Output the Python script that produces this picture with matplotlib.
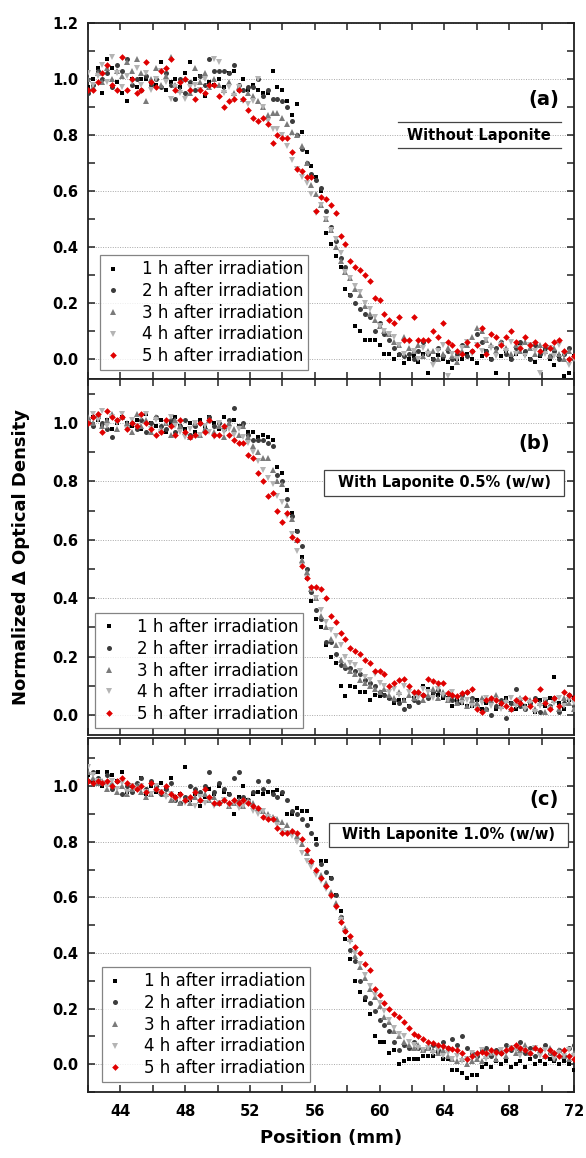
import numpy as np
import matplotlib
matplotlib.use("Agg")
import matplotlib.pyplot as plt
from matplotlib.ticker import MultipleLocator, FormatStrFormatter
from matplotlib.patches import Rectangle

plt.rcParams['font.family'] = ['DejaVu Sans']

# ---------------- data ----------------
position = [round(42.0 + 0.3 * k, 1) for k in range(101)]  # mm

labels = ["1 h after irradiation", "2 h after irradiation", "3 h after irradiation",
          "4 h after irradiation", "5 h after irradiation"]

a_1h = [0.97, 1.00, 1.04, 0.95, 1.07, 1.04, 0.99, 0.95, 0.92, 1.00,
        0.97, 1.00, 1.00, 0.99, 0.98, 1.06, 0.96, 0.99, 1.00, 0.97,
        1.02, 1.06, 1.00, 1.01, 0.94, 0.99, 0.98, 1.00, 0.97, 1.02,
        1.03, 0.96, 1.00, 0.96, 0.98, 0.96, 0.95, 0.95, 1.03, 0.97,
        0.96, 0.92, 0.87, 0.91, 0.81, 0.74, 0.69, 0.65, 0.60, 0.45,
        0.41, 0.37, 0.33, 0.25, 0.23, 0.12, 0.10, 0.07, 0.07, 0.07,
        0.05, 0.02, 0.02, 0.00, 0.015, -0.015, 0.00, 0.01, -0.01, 0.02,
        -0.05, 0.00, 0.015, 0.00, -0.01, -0.03, 0.00, 0.00, 0.02, 0.00,
        -0.015, 0.01, 0.03, 0.00, -0.05, 0.01, 0.03, 0.00, 0.02, 0.05,
        0.02, 0.00, -0.01, 0.01, 0.03, 0.00, -0.02, 0.01, -0.06, -0.05,
        0.01]
a_2h = [0.95, 0.98, 1.03, 1.00, 1.02, 0.97, 1.05, 1.03, 1.07, 0.98,
        1.00, 0.96, 1.01, 0.98, 1.00, 0.97, 1.02, 0.98, 0.93, 1.00,
        0.95, 0.99, 0.96, 1.01, 0.98, 1.07, 1.03, 1.03, 1.03, 1.02,
        1.05, 0.98, 0.96, 0.97, 0.97, 1.00, 0.94, 0.96, 0.93, 0.93,
        0.92, 0.90, 0.85, 0.80, 0.75, 0.70, 0.66, 0.64, 0.61, 0.53,
        0.47, 0.42, 0.36, 0.33, 0.23, 0.20, 0.18, 0.16, 0.15, 0.10,
        0.13, 0.09, 0.07, 0.04, 0.02, 0.01, 0.02, 0.00, 0.03, 0.06,
        0.02, 0.00, 0.04, 0.01, 0.03, 0.00, 0.02, 0.05, 0.01, 0.03,
        0.09, 0.06, 0.03, 0.00, 0.04, 0.06, 0.02, 0.00, 0.04, 0.06,
        0.03, 0.00, 0.05, 0.02, 0.04, 0.01, 0.03, 0.00, 0.02, 0.04,
        0.00]
a_3h = [1.00, 0.97, 1.02, 0.99, 1.04, 1.00, 1.03, 1.01, 1.06, 1.03,
        1.07, 1.02, 0.92, 1.00, 1.04, 0.98, 1.01, 1.08, 0.98, 0.96,
        1.00, 0.95, 1.04, 0.99, 1.02, 0.97, 1.00, 0.98, 0.96, 0.99,
        0.95, 0.97, 0.93, 0.95, 0.94, 0.92, 0.90, 0.87, 0.88, 0.88,
        0.86, 0.84, 0.81, 0.80, 0.76, 0.70, 0.62, 0.59, 0.55, 0.50,
        0.46, 0.40, 0.35, 0.31, 0.29, 0.25, 0.23, 0.19, 0.16, 0.14,
        0.12, 0.10, 0.09, 0.06, 0.05, 0.08, 0.04, 0.03, 0.05, 0.01,
        0.03, 0.03, 0.00, 0.02, 0.04, 0.01, -0.01, 0.03, 0.05, 0.08,
        0.11, 0.10, 0.07, 0.05, 0.03, 0.06, 0.04, 0.02, 0.05, 0.03,
        0.06, 0.04, 0.02, 0.05, 0.03, 0.01, 0.04, 0.02, 0.00, 0.03,
        0.01]
a_4h = [1.02, 0.98, 1.01, 1.05, 0.99, 1.08, 1.02, 0.97, 1.01, 0.99,
        1.04, 0.98, 1.02, 0.96, 1.00, 1.03, 0.99, 0.93, 0.97, 0.95,
        0.93, 0.97, 0.98, 0.96, 1.00, 0.97, 1.07, 1.06, 0.95, 0.97,
        0.94, 0.97, 0.92, 0.91, 0.92, 1.00, 0.90, 0.85, 0.82, 0.82,
        0.80, 0.76, 0.71, 0.68, 0.65, 0.63, 0.59, 0.52, 0.55, 0.50,
        0.46, 0.43, 0.38, 0.31, 0.29, 0.26, 0.24, 0.20, 0.18, 0.15,
        0.12, 0.10, 0.09, 0.08, 0.05, 0.02, 0.06, 0.03, 0.00, 0.04,
        0.02, -0.02, 0.03, 0.05, -0.06, 0.02, 0.00, 0.04, 0.06, 0.02,
        0.05, 0.03, 0.07, 0.04, 0.01, 0.05, 0.03, 0.06, 0.02, 0.04,
        0.01, 0.05, 0.03, -0.05, 0.02, 0.04, 0.01, 0.05, 0.02, -0.02,
        0.00]
a_5h = [0.96, 0.96, 0.99, 1.02, 1.05, 0.98, 0.96, 1.08, 0.96, 1.00,
        0.95, 0.96, 1.06, 0.99, 0.97, 1.03, 1.04, 1.07, 0.96, 0.99,
        1.00, 0.96, 0.93, 0.96, 0.95, 0.98, 0.98, 0.94, 0.90, 0.92,
        0.93, 0.96, 0.93, 0.89, 0.86, 0.85, 0.86, 0.84, 0.77, 0.80,
        0.79, 0.79, 0.74, 0.68, 0.67, 0.65, 0.65, 0.53, 0.58, 0.57,
        0.55, 0.52, 0.44, 0.41, 0.35, 0.33, 0.32, 0.30, 0.28, 0.22,
        0.21, 0.16, 0.14, 0.13, 0.15, 0.07, 0.07, 0.15, 0.07, 0.07,
        0.07, 0.10, 0.08, 0.13, 0.06, 0.05, 0.03, 0.02, 0.06, 0.03,
        0.05, 0.11, 0.02, 0.09, 0.08, 0.05, 0.08, 0.10, 0.06, 0.04,
        0.08, 0.05, 0.06, 0.03, 0.05, 0.04, 0.06, 0.07, 0.03, 0.00,
        0.01]

b_1h = [1.00, 1.02, 1.01, 0.99, 1.01, 0.98, 1.00, 1.02, 1.00, 0.99,
        1.01, 0.98, 1.03, 1.00, 0.99, 1.01, 0.97, 1.00, 1.02, 0.99,
        0.98, 1.00, 0.97, 1.01, 0.99, 1.02, 1.00, 0.98, 1.02, 0.99,
        1.01, 0.99, 0.99, 0.97, 0.97, 0.95, 0.96, 0.95, 0.94, 0.85,
        0.83, 0.77, 0.69, 0.63, 0.54, 0.47, 0.39, 0.33, 0.30, 0.24,
        0.20, 0.18, 0.10, 0.065, 0.10, 0.095, 0.08, 0.08, 0.05, 0.07,
        0.065, 0.07, 0.06, 0.04, 0.05, 0.05, 0.03, 0.06, 0.07, 0.10,
        0.09, 0.075, 0.07, 0.06, 0.06, 0.03, 0.05, 0.04, 0.03, 0.03,
        0.05, 0.02, 0.04, 0.05, 0.02, 0.03, 0.06, 0.04, 0.02, 0.05,
        0.03, 0.04, 0.01, 0.05, 0.03, 0.06, 0.13, 0.04, 0.02, 0.05,
        0.06]
b_2h = [1.01, 0.99, 1.02, 1.00, 0.98, 0.95, 1.01, 1.02, 0.99, 1.00,
        0.98, 1.01, 0.97, 1.00, 1.02, 0.99, 0.98, 1.01, 0.97, 0.99,
        1.01, 0.96, 0.99, 1.00, 0.98, 1.02, 0.99, 1.00, 0.98, 1.01,
        1.05, 0.99, 1.00, 0.96, 0.94, 0.94, 0.94, 0.93, 0.92, 0.82,
        0.80, 0.74, 0.68, 0.63, 0.58, 0.50, 0.42, 0.36, 0.33, 0.25,
        0.25, 0.21, 0.17, 0.16, 0.16, 0.15, 0.14, 0.12, 0.11, 0.10,
        0.08, 0.07, 0.06, 0.05, 0.04, 0.02, 0.03, 0.05, 0.045, 0.07,
        0.06, 0.08, 0.085, 0.07, 0.06, 0.05, 0.04, 0.07, 0.08, 0.06,
        0.03, 0.05, 0.02, 0.00, 0.03, 0.05, -0.01, 0.04, 0.09, 0.03,
        0.02, 0.04, 0.06, 0.01, 0.05, 0.03, 0.06, 0.01, 0.04, 0.07,
        0.03]
b_3h = [1.02, 1.00, 1.03, 0.99, 1.01, 1.03, 0.98, 1.02, 1.00, 0.97,
        1.03, 0.99, 1.01, 0.97, 1.02, 0.98, 1.00, 0.96, 1.01, 0.99,
        0.97, 0.95, 1.00, 0.96, 0.98, 1.01, 0.97, 0.99, 0.95, 1.00,
        0.98, 0.96, 0.99, 0.95, 0.92, 0.90, 0.88, 0.88, 0.84, 0.80,
        0.79, 0.72, 0.67, 0.60, 0.53, 0.49, 0.43, 0.40, 0.34, 0.30,
        0.26, 0.24, 0.19, 0.17, 0.15, 0.14, 0.12, 0.11, 0.10, 0.09,
        0.08, 0.09, 0.07, 0.06, 0.08, 0.05, 0.07, 0.06, 0.08, 0.05,
        0.07, 0.09, 0.06, 0.08, 0.05, 0.07, 0.04, 0.06, 0.03, 0.05,
        0.04, 0.06, 0.02, 0.05, 0.07, 0.03, 0.05, 0.02, 0.04, 0.06,
        0.03, 0.05, 0.02, 0.04, 0.01, 0.03, 0.05, 0.02, 0.06, 0.04,
        0.02]
b_4h = [1.00, 1.03, 1.01, 1.04, 0.99, 1.02, 1.00, 1.03, 0.98, 1.01,
        0.99, 1.02, 1.03, 0.98, 1.01, 0.97, 1.00, 1.02, 0.99, 0.97,
        0.95, 0.98, 1.00, 0.96, 0.99, 0.97, 0.95, 1.00, 0.97, 0.98,
        0.96, 0.98, 0.95, 0.93, 0.90, 0.87, 0.84, 0.81, 0.79, 0.75,
        0.73, 0.68, 0.62, 0.56, 0.51, 0.47, 0.43, 0.40, 0.36, 0.32,
        0.29, 0.27, 0.24, 0.20, 0.18, 0.17, 0.15, 0.13, 0.12, 0.14,
        0.11, 0.10, 0.08, 0.09, 0.07, 0.10, 0.08, 0.07, 0.06, 0.09,
        0.08, 0.06, 0.09, 0.07, 0.05, 0.08, 0.06, 0.04, 0.05, 0.03,
        0.02, 0.04, 0.06, 0.03, 0.05, 0.02, 0.04, 0.06, 0.03, 0.05,
        0.02, 0.04, 0.01, 0.03, 0.05, 0.02, 0.04, 0.06, 0.03, 0.05,
        0.04]
b_5h = [1.00, 1.02, 1.03, 0.97, 1.04, 1.02, 1.01, 1.02, 0.98, 1.00,
        0.99, 1.03, 1.00, 0.98, 0.96, 0.97, 1.01, 0.99, 0.96, 1.01,
        0.97, 0.95, 0.96, 1.00, 0.97, 1.01, 0.96, 0.96, 0.99, 0.96,
        0.94, 0.93, 0.93, 0.89, 0.88, 0.83, 0.80, 0.75, 0.76, 0.70,
        0.66, 0.69, 0.61, 0.60, 0.51, 0.47, 0.44, 0.44, 0.43, 0.40,
        0.34, 0.32, 0.28, 0.26, 0.23, 0.22, 0.21, 0.19, 0.18, 0.15,
        0.15, 0.14, 0.10, 0.11, 0.12, 0.125, 0.10, 0.08, 0.08, 0.07,
        0.125, 0.115, 0.11, 0.11, 0.075, 0.07, 0.065, 0.075, 0.08, 0.09,
        0.02, 0.01, 0.05, 0.06, 0.05, 0.04, 0.03, 0.02, 0.05, 0.04,
        0.06, 0.03, 0.05, 0.09, 0.04, 0.02, 0.06, 0.03, 0.08, 0.07,
        0.06]

c_1h = [1.04, 1.02, 1.05, 1.00, 1.05, 1.04, 1.02, 1.05, 0.98, 1.00,
        0.99, 1.03, 0.97, 1.00, 0.98, 1.01, 0.99, 1.03, 0.96, 0.97,
        1.07, 0.95, 0.97, 0.93, 0.96, 0.99, 0.97, 1.00, 0.98, 0.97,
        0.90, 0.96, 1.00, 0.95, 0.97, 0.98, 0.97, 0.98, 0.98, 0.985,
        0.97, 0.90, 0.90, 0.92, 0.91, 0.91, 0.88, 0.81, 0.73, 0.73,
        0.67, 0.61, 0.55, 0.45, 0.38, 0.30, 0.26, 0.23, 0.18, 0.10,
        0.08, 0.08, 0.04, 0.05, 0.00, 0.01, 0.02, 0.02, 0.02, 0.03,
        0.03, 0.03, 0.04, 0.02, 0.02, -0.02, -0.02, -0.03, -0.05, -0.04,
        -0.04, -0.01, 0.00, -0.01, 0.01, 0.00, 0.01, -0.01, 0.00, 0.01,
        -0.01, 0.02, 0.00, 0.01, 0.00, 0.02, 0.01, 0.00, 0.01, 0.00,
        -0.02]
c_2h = [1.02, 1.05, 1.03, 1.01, 1.04, 0.99, 1.02, 0.97, 1.00, 0.98,
        1.01, 1.03, 0.99, 1.02, 1.00, 0.97, 0.99, 1.01, 0.95, 0.94,
        0.96, 1.00, 0.99, 0.98, 1.00, 1.05, 0.98, 1.01, 0.99, 0.97,
        1.03, 1.05, 0.96, 0.95, 0.98, 1.02, 0.99, 1.02, 0.97, 0.96,
        0.98, 0.95, 0.91, 0.90, 0.88, 0.86, 0.83, 0.79, 0.72, 0.69,
        0.67, 0.61, 0.53, 0.48, 0.41, 0.37, 0.30, 0.24, 0.22, 0.19,
        0.16, 0.14, 0.12, 0.08, 0.05, 0.07, 0.06, 0.08, 0.06, 0.05,
        0.06, 0.07, 0.05, 0.08, 0.06, 0.09, 0.07, 0.10, 0.06, 0.04,
        0.03, 0.05, 0.06, 0.03, 0.05, 0.04, 0.07, 0.05, 0.06, 0.08,
        0.04, 0.06, 0.03, 0.05, 0.07, 0.04, 0.02, 0.05, 0.03, 0.06,
        0.07]
c_3h = [1.05, 1.03, 1.01, 1.02, 0.99, 1.01, 0.98, 1.00, 0.97, 0.99,
        1.00, 0.98, 0.96, 0.97, 0.99, 0.98, 0.97, 0.95, 0.96, 0.94,
        0.95, 0.94, 0.96, 0.95, 0.97, 0.95, 0.96, 0.94, 0.95, 0.93,
        0.94, 0.95, 0.93, 0.95, 0.94, 0.92, 0.91, 0.90, 0.89, 0.88,
        0.87, 0.86, 0.84, 0.82, 0.79, 0.76, 0.73, 0.70, 0.68, 0.65,
        0.62, 0.58, 0.53, 0.49, 0.45, 0.39, 0.35, 0.31, 0.27, 0.24,
        0.21, 0.17, 0.15, 0.12, 0.10, 0.08, 0.07, 0.06, 0.07, 0.05,
        0.06, 0.05, 0.04, 0.05, 0.03, 0.02, 0.01, 0.02, 0.00, 0.01,
        0.02, 0.01, 0.03, 0.04, 0.02, 0.05, 0.03, 0.06, 0.04, 0.05,
        0.07, 0.04, 0.06, 0.05, 0.03, 0.06, 0.04, 0.05, 0.03, 0.02,
        0.04]
c_4h = [1.07, 1.04, 1.02, 1.01, 1.00, 1.02, 0.99, 1.01, 0.98, 1.00,
        0.99, 1.00, 0.98, 0.97, 1.00, 0.98, 0.96, 0.97, 0.95, 0.96,
        0.94, 0.95, 0.93, 0.96, 0.94, 0.95, 0.93, 0.94, 0.95, 0.93,
        0.94, 0.92, 0.93, 0.94, 0.91, 0.90, 0.91, 0.89, 0.88, 0.86,
        0.84, 0.83, 0.82, 0.80, 0.76, 0.73, 0.71, 0.68, 0.66, 0.63,
        0.60, 0.56, 0.52, 0.48, 0.44, 0.40, 0.36, 0.32, 0.28, 0.25,
        0.22, 0.19, 0.16, 0.13, 0.11, 0.10, 0.08, 0.07, 0.06, 0.05,
        0.06, 0.04, 0.05, 0.03, 0.04, 0.02, 0.03, 0.01, 0.02, 0.04,
        0.03, 0.05, 0.02, 0.04, 0.03, 0.05, 0.04, 0.06, 0.05, 0.03,
        0.05, 0.04, 0.06, 0.03, 0.05, 0.04, 0.02, 0.04, 0.03, 0.05,
        0.03]
c_5h = [1.02, 1.01, 1.02, 1.01, 1.02, 1.00, 1.02, 1.03, 1.01, 1.00,
        0.99, 1.00, 0.98, 1.01, 0.99, 0.98, 1.00, 0.97, 0.96, 0.97,
        0.95, 0.96, 0.98, 0.95, 0.99, 0.96, 0.94, 0.94, 0.95, 0.94,
        0.95, 0.94, 0.95, 0.94, 0.93, 0.92, 0.89, 0.88, 0.88, 0.85,
        0.83, 0.83, 0.84, 0.83, 0.81, 0.77, 0.73, 0.70, 0.67, 0.64,
        0.61, 0.57, 0.51, 0.48, 0.46, 0.42, 0.40, 0.36, 0.34, 0.27,
        0.25, 0.22, 0.20, 0.18, 0.17, 0.15, 0.13, 0.11, 0.10, 0.09,
        0.08, 0.075, 0.07, 0.065, 0.06, 0.055, 0.05, 0.04, 0.02, 0.03,
        0.04, 0.045, 0.04, 0.05, 0.045, 0.04, 0.05, 0.06, 0.07, 0.06,
        0.05, 0.04, 0.06, 0.05, 0.03, 0.05, 0.04, 0.03, 0.05, 0.03,
        0.02]

panel_series = [[a_1h, a_2h, a_3h, a_4h, a_5h],
                [b_1h, b_2h, b_3h, b_4h, b_5h],
                [c_1h, c_2h, c_3h, c_4h, c_5h]]
panel_letters = ["(a)", "(b)", "(c)"]
panel_notes = ["Without Laponite", "With Laponite 0.5% (w/w)", "With Laponite 1.0% (w/w)"]
x_ticks = [44, 48, 52, 56, 60, 64, 68, 72]

# ---------------- style ----------------
markers = ['s', 'o', '^', 'v', 'D']
colors = ['#000000', '#3c3c3c', '#7a7a7a', '#b4b4b4', '#e00000']
msizes = [3.4, 3.6, 4.2, 4.2, 3.4]

fig = plt.figure(figsize=(5.86, 11.58), dpi=100)
ax_rects = [[0.150, 0.6727, 0.8294, 0.3074],
            [0.150, 0.3653, 0.8294, 0.3074],
            [0.150, 0.0570, 0.8294, 0.3057]]
ylims = [(-0.071, 1.2), (-0.068, 1.15), (-0.10, 1.173)]
legend_anchor = [(0.025, 0.025), (0.015, 0.02), (0.029, 0.028)]
letter_pos = [(0.938, 0.784), (0.918, 0.82), (0.938, 0.826)]
note_boxes = [None, (0.486, 0.671, 0.493, 0.073), (0.496, 0.692, 0.492, 0.068)]
note_pos = [(0.805, 0.685), (0.733, 0.708), (0.742, 0.726)]

for i in range(3):
    ax = fig.add_axes(ax_rects[i])
    for j in range(5):
        ax.plot(position, panel_series[i][j], linestyle='none', marker=markers[j],
                color=colors[j], markersize=msizes[j], markeredgewidth=0,
                label=labels[j], zorder=3 + j)
    ax.set_xlim(42, 72)
    ax.set_ylim(*ylims[i])
    ax.xaxis.set_major_locator(MultipleLocator(4))
    ax.xaxis.set_minor_locator(MultipleLocator(2))
    ax.yaxis.set_major_locator(MultipleLocator(0.2))
    ax.yaxis.set_minor_locator(MultipleLocator(0.1))
    ax.yaxis.set_major_formatter(FormatStrFormatter('%.1f'))
    ax.set_xticks(x_ticks)
    ax.tick_params(which='both', direction='in', top=True, right=True,
                   length=5, width=1.1, color='#222222')
    ax.tick_params(axis='y', labelsize=10.5, pad=7)
    ax.tick_params(axis='x', labelsize=10.5, pad=9)
    for lab in ax.get_xticklabels() + ax.get_yticklabels():
        lab.set_fontweight('bold')
    if i < 2:
        ax.tick_params(axis='x', labelbottom=False)
    for sp in ax.spines.values():
        sp.set_linewidth(1.3)
        sp.set_color('#222222')
    ax.yaxis.grid(True, which='major', linestyle=(0, (1, 1.5)), color='#a8a8a8',
                  linewidth=0.7)
    ax.set_axisbelow(True)

    leg = ax.legend(loc='lower left', bbox_to_anchor=legend_anchor[i], borderaxespad=0,
                    fontsize=12, frameon=True, fancybox=False, handlelength=1.0,
                    handletextpad=1.2, borderpad=0.3, labelspacing=0.22,
                    markerscale=1.0)
    leg.get_frame().set_edgecolor('#666666')
    leg.get_frame().set_linewidth(0.9)
    leg.set_zorder(20)

    ax.text(letter_pos[i][0], letter_pos[i][1], panel_letters[i], transform=ax.transAxes,
            fontsize=14, fontweight='bold', ha='center', va='center', zorder=25)

    if note_boxes[i] is None:
        for yy in (0.649, 0.722):
            ax.plot([0.638, 0.973], [yy, yy], transform=ax.transAxes, color='#444444',
                    linewidth=0.9, zorder=25)
    else:
        bx, by, bw, bh = note_boxes[i]
        ax.add_patch(Rectangle((bx, by), bw, bh, transform=ax.transAxes, facecolor='white',
                               edgecolor='#444444', linewidth=0.9, zorder=24))
    ax.text(note_pos[i][0], note_pos[i][1], panel_notes[i], transform=ax.transAxes,
            fontsize=10.5, fontweight='bold', ha='center', va='center', zorder=25)

fig.text(0.036, 0.519, "Normalized \u0394 Optical Density", rotation=90, fontsize=13,
         fontweight='bold', ha='center', va='center')
fig.text(0.565, 0.0173, "Position (mm)", fontsize=13, fontweight='bold',
         ha='center', va='center')

fig.savefig("out.png", dpi=100)
